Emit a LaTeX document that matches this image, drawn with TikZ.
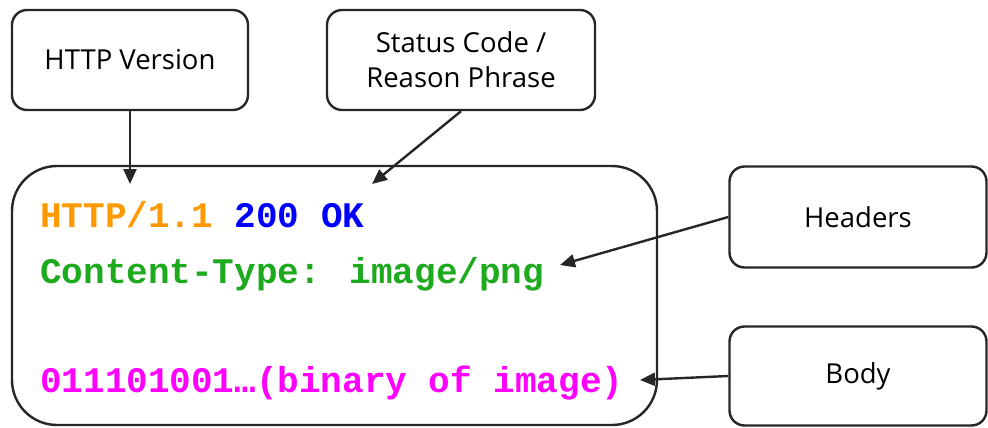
\documentclass[tikz,border=0pt]{standalone}
\usepackage{fontspec}
\setmainfont{Open Sans}
\newfontfamily\codefont{Liberation Mono}
\usetikzlibrary{arrows.meta}
\definecolor{httporange}{RGB}{255,153,0}
\definecolor{codeblue}{RGB}{0,0,255}
\definecolor{codegreen}{RGB}{30,170,30}
\definecolor{codemagenta}{RGB}{255,0,255}
\begin{document}
\begin{tikzpicture}[x=1pt,y=1pt,
  label box/.style={draw=black!85, line width=2.4pt, rounded corners=15pt, align=center,
     font=\fontsize{27.5}{35}\selectfont, inner sep=0pt},
  main box/.style={draw=black!85, line width=2.4pt, rounded corners=45pt, inner sep=0pt},
  code/.style={anchor=base west, inner sep=0pt, font=\codefont\bfseries\fontsize{36}{40}\selectfont},
  pointer/.style={draw=black!85, line width=2.4pt, -{Triangle[length=15pt,width=13pt]}}]
\useasboundingbox (0,0) rectangle (988,-428);
\node[label box, minimum width=236pt, minimum height=100pt] (ver) at (130,-60) {HTTP Version};
\node[label box, minimum width=268pt, minimum height=100pt] (st) at (461,-60) {Status Code /\\Reason Phrase};
\node[main box, minimum width=645pt, minimum height=259pt] (msg) at (334.5,-295.5) {};
\node[label box, minimum width=257pt, minimum height=101pt] (hd) at (858,-217) {Headers};
\node[label box, minimum width=257pt, minimum height=99pt] (bd) at (858,-376) {Body};
\node[code] (l1) at (40,-227) {\textcolor{httporange}{HTTP/1.1} \textcolor{codeblue}{200 OK}};
\node[code, text=codegreen] (l2) at (40,-283) {Content-Type: image/png};
\node[code, text=codemagenta] (l3) at (40,-392) {011101001\ldots(binary of image)};
\coordinate (pv) at (130,-184);
\coordinate (ps) at (372,-184);
\coordinate (ph) at (560,-265);
\coordinate (pb) at (640,-380);
\draw[pointer] (ver.south) -- (pv);
\draw[pointer] (st.south) -- (ps);
\draw[pointer] (hd.west) -- (ph);
\draw[pointer] (bd.west) -- (pb);
\end{tikzpicture}
\end{document}
